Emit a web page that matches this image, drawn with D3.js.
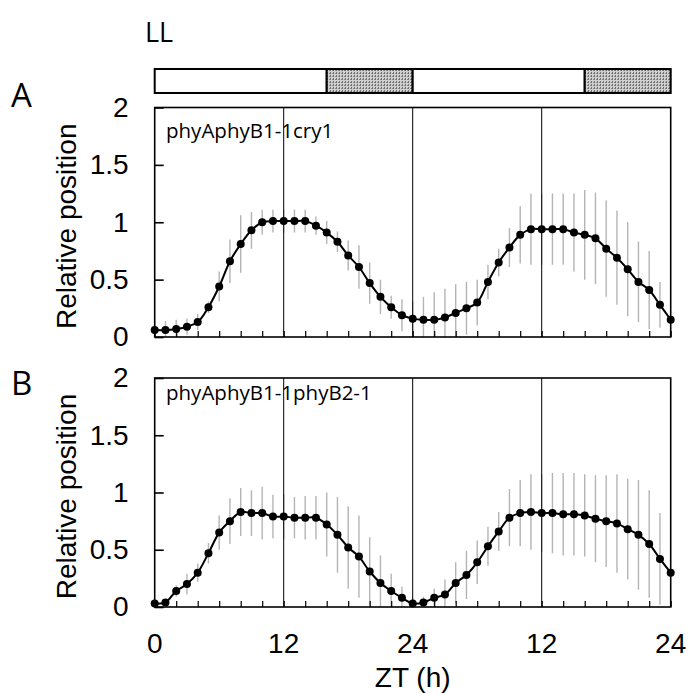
<!DOCTYPE html>
<html>
<head>
<meta charset="utf-8">
<script src="https://cdn.jsdelivr.net/npm/d3@7"></script>
<style>
  body { margin: 0; background: #fff; }
  svg { display: block; }
  .sans { font-family: "Liberation Sans", Arial, sans-serif; }
  .cal { font-family: "Open Sans", sans-serif; }
</style>
</head>
<body>
<div id="chart"></div>
<script>
// time points (ZT, hours, two days of LL)
const ztHours = [0,1,2,3,4,5,6,7,8,9,10,11,12,13,14,15,16,17,18,19,20,21,22,23,24,
  25,26,27,28,29,30,31,32,33,34,35,36,37,38,39,40,41,42,43,44,45,46,47,48];

// panel A: phyAphyB1-1cry1
const meanA = [0.06,0.06,0.07,0.09,0.13,0.26,0.44,0.66,0.81,0.93,1.00,1.01,1.01,1.01,1.01,
  0.97,0.91,0.83,0.71,0.61,0.47,0.35,0.26,0.19,0.16,
  0.15,0.15,0.17,0.21,0.25,0.30,0.48,0.65,0.78,0.89,0.94,0.94,0.94,0.94,0.91,
  0.89,0.86,0.77,0.69,0.59,0.48,0.41,0.28,0.15];
const errA = [0.08,0.08,0.08,0.07,0.07,0.05,0.13,0.19,0.25,0.16,0.11,0.10,0.10,0.10,0.10,
  0.08,0.10,0.09,0.13,0.19,0.18,0.15,0.10,0.14,0.15,
  0.20,0.24,0.25,0.25,0.23,0.20,0.15,0.12,0.17,0.25,0.31,0.31,0.31,0.31,0.34,
  0.39,0.40,0.42,0.41,0.41,0.35,0.34,0.20,0.20];

// panel B: phyAphyB1-1phyB2-1
const meanB = [0.03,0.04,0.14,0.20,0.30,0.47,0.65,0.75,0.83,0.82,0.82,0.79,0.79,0.78,0.78,
  0.78,0.72,0.63,0.52,0.44,0.31,0.21,0.14,0.08,0.03,
  0.04,0.08,0.11,0.21,0.28,0.39,0.53,0.66,0.78,0.82,0.83,0.82,0.82,0.81,0.81,
  0.80,0.77,0.75,0.73,0.68,0.63,0.55,0.42,0.30];
const errB = [0.03,0.03,0.05,0.09,0.08,0.09,0.15,0.20,0.21,0.20,0.23,0.19,0.20,0.18,0.19,
  0.19,0.28,0.33,0.36,0.36,0.30,0.24,0.15,0.10,0.05,
  0.05,0.08,0.13,0.18,0.21,0.19,0.17,0.17,0.25,0.29,0.33,0.34,0.35,0.36,0.36,
  0.36,0.38,0.40,0.43,0.44,0.48,0.47,0.40,0.30];

// light regime bar (hours)
const barStart = [0, 16, 24, 40];
const barEnd = [16, 24, 40, 48];
const barShaded = [false, true, false, true];

const yTicks = [0, 0.5, 1, 1.5, 2];
const xGridLines = [12, 24, 36];
const xMinorTicks = [0,2,4,6,8,10,12,14,16,18,20,22,24,26,28,30,32,34,36,38,40,42,44,46,48];
const xLabelValues = [0, 12, 24, 36, 48];
const xLabelText = ["0", "12", "24", "12", "24"];

const panels = [
  { letter: "A", name: "phyAphyB1-1cry1", mean: meanA, err: errA, top: 107.5, bottom: 337, nameY: 138, letterY: 107, labels: false },
  { letter: "B", name: "phyAphyB1-1phyB2-1", mean: meanB, err: errB, top: 378, bottom: 607, nameY: 400, letterY: 395, labels: true }
];

const width = 694, height = 693;
const svg = d3.select("#chart").append("svg")
  .attr("width", width)
  .attr("height", height);

const defs = svg.append("defs");
const pat = defs.append("pattern")
  .attr("id", "stipple")
  .attr("patternUnits", "userSpaceOnUse")
  .attr("width", 3).attr("height", 3);
pat.append("rect").attr("width", 3).attr("height", 3).attr("fill", "#cfcfcf");
pat.append("rect").attr("x", 0).attr("y", 0).attr("width", 1).attr("height", 2).attr("fill", "#707070");
pat.append("rect").attr("x", 2).attr("y", 1).attr("width", 1).attr("height", 1).attr("fill", "#8a8a8a");

const x = d3.scaleLinear().domain([0, 48]).range([154.7, 670.7]);

// LL title + light bar
svg.append("text").attr("class", "cal")
  .attr("x", 145).attr("y", 42)
  .style("font-size", "27px")
  .text("LL");

svg.append("g").selectAll("rect")
  .data(barStart)
  .join("rect")
  .attr("x", (d, i) => x(d))
  .attr("y", 69)
  .attr("width", (d, i) => x(barEnd[i]) - x(d))
  .attr("height", 24)
  .attr("fill", (d, i) => barShaded[i] ? "url(#stipple)" : "#fff")
  .attr("stroke", "#000")
  .attr("stroke-width", 2);

panels.forEach((p, pi) => {
  const y = d3.scaleLinear().domain([0, 2]).range([p.bottom, p.top]);
  const g = svg.append("g");

  const clipId = "clip" + pi;
  defs.append("clipPath").attr("id", clipId)
    .append("rect")
    .attr("x", x(0)).attr("y", p.top)
    .attr("width", x(48) - x(0)).attr("height", p.bottom - p.top);

  // error bars
  g.append("g").attr("clip-path", `url(#${clipId})`)
    .selectAll("line")
    .data(ztHours)
    .join("line")
    .attr("x1", d => x(d)).attr("x2", d => x(d))
    .attr("y1", (d, i) => y(p.mean[i] - p.err[i]))
    .attr("y2", (d, i) => y(p.mean[i] + p.err[i]))
    .attr("stroke", "#b4b4b4")
    .attr("stroke-width", 1.4);

  // vertical reference lines
  g.append("g").selectAll("line")
    .data(xGridLines)
    .join("line")
    .attr("x1", d => x(d)).attr("x2", d => x(d))
    .attr("y1", p.top).attr("y2", p.bottom)
    .attr("stroke", "#000")
    .attr("stroke-width", 1);

  // frame
  g.append("rect")
    .attr("x", x(0)).attr("y", p.top)
    .attr("width", x(48) - x(0)).attr("height", p.bottom - p.top)
    .attr("fill", "none")
    .attr("stroke", "#000")
    .attr("stroke-width", 1.6);

  // y axis
  const yAxis = g.append("g")
    .attr("class", "sans")
    .attr("transform", `translate(${x(0)},0)`)
    .call(d3.axisLeft(y).tickValues(yTicks).tickSize(-9).tickPadding(26)
      .tickFormat(d3.format("")));
  yAxis.select(".domain").remove();
  yAxis.selectAll("line").attr("stroke", "#000").attr("stroke-width", 1.6);
  yAxis.selectAll("text").style("font-size", "28px").attr("fill", "#000");

  // x axis minor ticks (inside)
  const xAxis = g.append("g")
    .attr("class", "sans")
    .attr("transform", `translate(0,${p.bottom})`)
    .call(d3.axisBottom(x).tickValues(xMinorTicks).tickSize(-6).tickFormat(""));
  xAxis.select(".domain").remove();
  xAxis.selectAll("line").attr("stroke", "#000").attr("stroke-width", 1.2);

  if (p.labels) {
    g.append("g").selectAll("text")
      .data(xLabelValues)
      .join("text")
      .attr("class", "sans")
      .attr("x", d => x(d))
      .attr("y", 653)
      .attr("text-anchor", "middle")
      .style("font-size", "28px")
      .text((d, i) => xLabelText[i]);
  }

  // line + markers
  const line = d3.line()
    .x(d => x(d))
    .y((d, i) => y(p.mean[i]))
    .curve(d3.curveCatmullRom.alpha(0.5));
  g.append("path")
    .datum(ztHours)
    .attr("d", line)
    .attr("fill", "none")
    .attr("stroke", "#000")
    .attr("stroke-width", 2);
  g.append("g").selectAll("circle")
    .data(ztHours)
    .join("circle")
    .attr("cx", d => x(d))
    .attr("cy", (d, i) => y(p.mean[i]))
    .attr("r", 4)
    .attr("fill", "#000");

  // genotype label
  g.append("text").attr("class", "cal")
    .attr("x", 166).attr("y", p.nameY)
    .style("font-size", "20.5px")
    .text(p.name);

  // panel letter
  g.append("text").attr("class", "cal")
    .attr("x", 11).attr("y", p.letterY)
    .style("font-size", "33px")
    .text(p.letter);

  // y label
  g.append("text").attr("class", "sans")
    .attr("transform", `translate(76,${(p.top + p.bottom) / 2 + 4}) rotate(-90)`)
    .attr("text-anchor", "middle")
    .style("font-size", "28px")
    .text("Relative position");
});

svg.append("text").attr("class", "sans")
  .attr("x", x(24)).attr("y", 687)
  .attr("text-anchor", "middle")
  .style("font-size", "28px")
  .text("ZT (h)");
</script>
</body>
</html>
